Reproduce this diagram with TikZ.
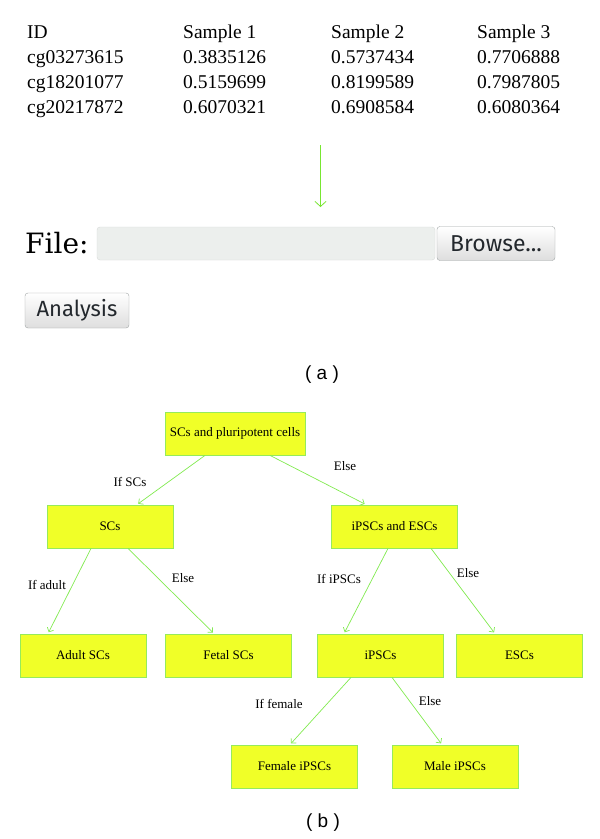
\documentclass[tikz,border=0pt]{standalone}
\usepackage{fontspec}
\setmainfont{Liberation Serif}
\newfontfamily\uifont{Fira Sans}
\newfontfamily\capfont{Liberation Sans}
\newfontfamily\filefont{DejaVu Serif}
\usetikzlibrary{arrows.meta}
\definecolor{boxfill}{RGB}{240,255,40}
\definecolor{boxline}{RGB}{150,235,90}
\definecolor{edgegreen}{RGB}{130,235,80}
\definecolor{arrowgreen}{RGB}{120,230,50}
\definecolor{btnline}{RGB}{160,165,165}
\definecolor{btntext}{RGB}{35,40,45}
\definecolor{fieldfill}{RGB}{236,239,237}
\definecolor{fieldline}{RGB}{215,218,216}
\tikzset{
  tabtext/.style={anchor=base west, inner sep=0pt, font=\fontsize{19.5}{21}\selectfont},
  treebox/.style={draw=boxline, fill=boxfill, line width=0.8pt, minimum width=126pt, minimum height=43pt, inner sep=0pt, font=\fontsize{13}{15}\selectfont},
  edge/.style={draw=edgegreen, line width=0.7pt, -{Straight Barb[length=3.5pt,width=7pt]}, shorten >=1.5pt},
  elabel/.style={inner sep=0pt, font=\fontsize{13}{15}\selectfont},
  button/.style={draw=btnline, rounded corners=3pt, top color=white, bottom color=black!13, text=btntext, inner sep=0pt},
  field/.style={draw=fieldline, fill=fieldfill, rounded corners=3pt, inner sep=0pt},
  caption/.style={inner sep=0pt, font=\capfont\fontsize{19}{21}\selectfont}
}
\begin{document}
\begin{tikzpicture}[x=1pt,y=-1pt]
\useasboundingbox[fill=white] (0,0) rectangle (600,839);
% table
\node[tabtext] (h0) at (27,38) {ID};
\node[tabtext] (h1) at (183,38) {Sample 1};
\node[tabtext] (h2) at (331,38) {Sample 2};
\node[tabtext] (h3) at (477,38) {Sample 3};
\node[tabtext] (r10) at (27,63) {cg03273615};
\node[tabtext] (r11) at (183,63) {0.3835126};
\node[tabtext] (r12) at (331,63) {0.5737434};
\node[tabtext] (r13) at (477,63) {0.7706888};
\node[tabtext] (r20) at (27,88) {cg18201077};
\node[tabtext] (r21) at (183,88) {0.5159699};
\node[tabtext] (r22) at (331,88) {0.8199589};
\node[tabtext] (r23) at (477,88) {0.7987805};
\node[tabtext] (r30) at (27,113) {cg20217872};
\node[tabtext] (r31) at (183,113) {0.6070321};
\node[tabtext] (r32) at (331,113) {0.6908584};
\node[tabtext] (r33) at (477,113) {0.6080364};
% arrow
\coordinate (atop) at (320.5,145);
\coordinate (abot) at (320.5,207);
\draw[draw=arrowgreen, line width=0.8pt, -{Straight Barb[length=5pt,width=11pt]}] (atop) -- (abot);
% file form
\node[anchor=base west, inner sep=0pt, font=\filefont\fontsize{28}{30}\selectfont] (filelbl) at (25,253) {File:};
\node[field, minimum width=338pt, minimum height=33pt] (field) at (266,243.5) {};
\node[button, minimum width=118pt, minimum height=34pt, font=\uifont\fontsize{23}{25}\selectfont] (browse) at (496,243.5) {Browse...};
\node[button, minimum width=104pt, minimum height=35pt, font=\uifont\fontsize{22}{24}\selectfont] (analysis) at (77,310.5) {Analysis};
\node[caption] (capa) at (322,375) {( a )};
% tree
\node[treebox, minimum width=140pt] (root) at (235,433.5) {SCs and pluripotent cells};
\node[treebox] (scs) at (110,526.5) {SCs};
\node[treebox] (ie) at (394.5,526.5) {iPSCs and ESCs};
\node[treebox] (adult) at (83,655.5) {Adult SCs};
\node[treebox] (fetal) at (228.5,655.5) {Fetal SCs};
\node[treebox] (ipsc) at (380.5,655.5) {iPSCs};
\node[treebox] (esc) at (519.5,655.5) {ESCs};
\node[treebox] (female) at (294.5,766.5) {Female iPSCs};
\node[treebox] (male) at (455,766.5) {Male iPSCs};
\draw[edge] ([xshift=-30pt]root.south) -- ([xshift=27pt]scs.north);
\draw[edge] ([xshift=35pt]root.south) -- ([xshift=-28.5pt]ie.north);
\draw[edge] ([xshift=-19pt]scs.south) -- ([xshift=-35pt]adult.north);
\draw[edge] ([xshift=18pt]scs.south) -- ([xshift=-14.5pt]fetal.north);
\draw[edge] ([xshift=-6.5pt]ie.south) -- ([xshift=-36.5pt]ipsc.north);
\draw[edge] ([xshift=36.5pt]ie.south) -- ([xshift=-24.5pt]esc.north);
\draw[edge] ([xshift=-29.5pt]ipsc.south) -- ([xshift=-4.5pt]female.north);
\draw[edge] ([xshift=11.5pt]ipsc.south) -- ([xshift=-13pt]male.north);
\node[elabel] (l1) at (130,482) {If SCs};
\node[elabel] (l2) at (345,466) {Else};
\node[elabel] (l3) at (47,585) {If adult};
\node[elabel] (l4) at (183,578) {Else};
\node[elabel] (l5) at (339,579) {If iPSCs};
\node[elabel] (l6) at (468,573) {Else};
\node[elabel] (l7) at (279,704) {If female};
\node[elabel] (l8) at (430,701) {Else};
\node[caption] (capb) at (323,823) {( b )};
\end{tikzpicture}
\end{document}
